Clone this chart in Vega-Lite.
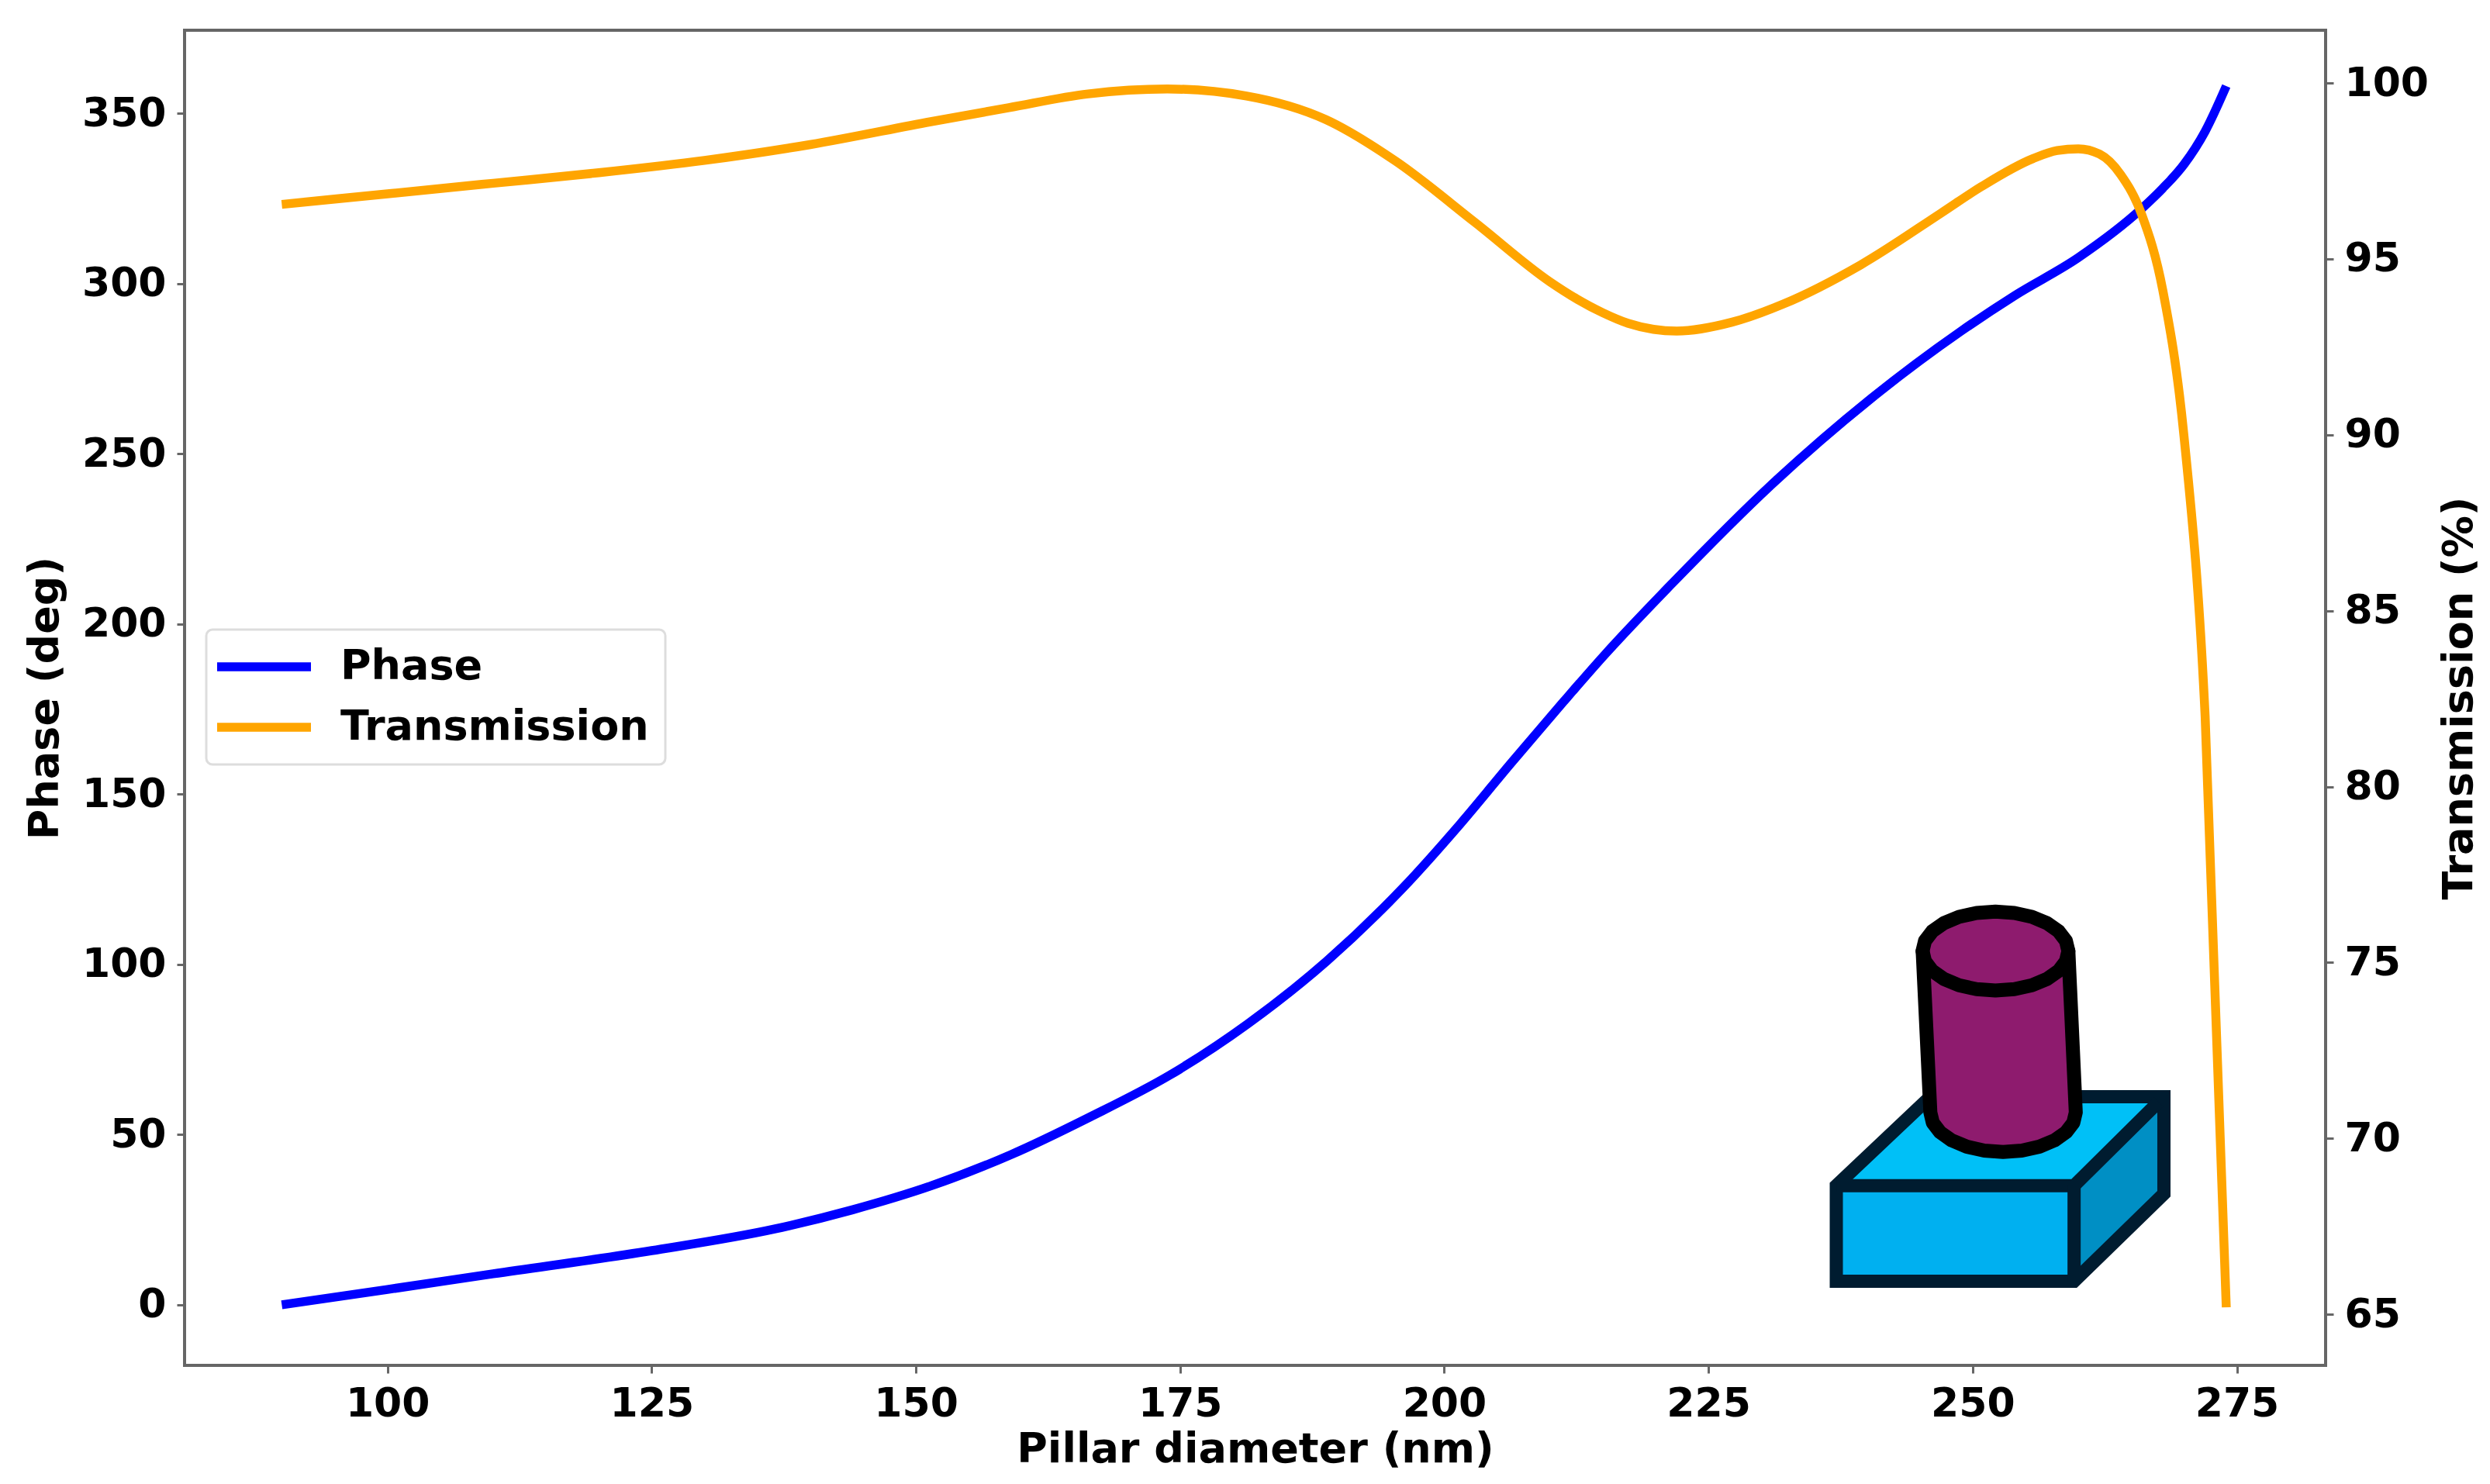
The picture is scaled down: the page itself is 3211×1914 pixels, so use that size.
{
"$schema":"https://vega.github.io/schema/vega-lite/v6.json",
"width":2761,"height":1722,
"autosize":{"type":"none"},
"padding":{"left":238,"top":39,"right":212,"bottom":153},
"background":"white",
"view":{"stroke":"#666666","strokeWidth":4,"fill":"white"},
"config":{
 "axis":{"labelFont":"DejaVu Sans","labelFontWeight":"bold","labelFontSize":52,"labelColor":"#000000","titleFont":"DejaVu Sans","titleFontWeight":"bold","titleFontSize":54,"titleColor":"#000000","tickColor":"#666666","tickWidth":3,"tickSize":10,"labelPadding":14,"domain":false,"grid":false,"labelOverlap":false,"labelBound":false,"labelFlush":false},
 "legend":{"labelFont":"DejaVu Sans","labelFontWeight":"bold","labelFontSize":54,"labelColor":"#000000","strokeWidth":3,"labelLimit":1000}
},
"datasets":{
 "phase":[
  {"d":90,"v":0},{"d":100,"v":4.5},{"d":110,"v":9.1},{"d":125,"v":15.9},{"d":136.7,"v":22.3},{"d":144,"v":27.9},{"d":151.5,"v":35},{"d":159,"v":44.1},{"d":166.5,"v":55.2},{"d":174,"v":67.4},{"d":181.4,"v":82.5},{"d":188.9,"v":101},{"d":196.1,"v":122.5},{"d":201.5,"v":141.2},{"d":206.4,"v":159.4},{"d":211.3,"v":177.2},{"d":215.2,"v":191},{"d":221.6,"v":212},{"d":231,"v":241},{"d":240.3,"v":266},{"d":248.9,"v":286.0},{"d":254,"v":296.5},{"d":260,"v":307.6},{"d":266,"v":322},{"d":268,"v":328},{"d":270,"v":335},{"d":272,"v":344.7},{"d":274,"v":358}
 ],
 "transmission":[
  {"d":90,"v":96.55},{"d":100,"v":96.85},{"d":110,"v":97.15},{"d":120,"v":97.45},{"d":130,"v":97.8},{"d":140,"v":98.25},{"d":151.4,"v":98.9},{"d":158.8,"v":99.3},{"d":166.3,"v":99.69},{"d":173.8,"v":99.83},{"d":181.3,"v":99.63},{"d":188.8,"v":98.96},{"d":195.4,"v":97.78},{"d":202.9,"v":96.04},{"d":210,"v":94.35},{"d":212.5,"v":93.87},{"d":215,"v":93.47},{"d":217.4,"v":93.17},{"d":219.8,"v":93.0},{"d":222,"v":92.95},{"d":227.2,"v":93.2},{"d":232.1,"v":93.72},{"d":239.4,"v":94.83},{"d":247,"v":96.3},{"d":250.8,"v":97.05},{"d":255.7,"v":97.85},{"d":258,"v":98.08},{"d":260,"v":98.13},{"d":262,"v":97.98},{"d":264,"v":97.4},{"d":266,"v":96.26},{"d":268,"v":94.1},{"d":270,"v":89.96},{"d":272,"v":82},{"d":274,"v":65.2}
 ]
},
"resolve":{"scale":{"y":"independent"},"axis":{"y":"independent"}},
"encoding":{"x":{"type":"quantitative","scale":{"domain":[80.8,283.4],"nice":false,"zero":false},"axis":{"title":"Pillar diameter (nm)","values":[100,125,150,175,200,225,250,275],"titlePadding":6}}},
"layer":[
  {"data":{"name":"phase"},
   "mark":{"type":"line","strokeWidth":11.5,"interpolate":"monotone"},
   "encoding":{
    "x":{"field":"d"},
    "y":{"field":"v","type":"quantitative","scale":{"domain":[-17.8,374.4],"nice":false,"zero":false},"axis":{"title":"Phase (deg)","orient":"left","values":[0,50,100,150,200,250,300,350],"titlePadding":20}},
    "color":{"datum":"Phase","type":"nominal","scale":{"domain":["Phase","Transmission"],"range":["#0000ff","#ffa500"]},
     "legend":{"title":null,"orient":"none","legendX":28,"legendY":773,"fillColor":"#ffffff","strokeColor":"#dddddd","cornerRadius":8,"padding":21,"symbolType":"M-1.7,0H4.35","symbolSize":1600,"symbolStrokeWidth":11.5,"labelOffset":98,"rowPadding":24}}
   }},
  {"data":{"name":"transmission"},
   "mark":{"type":"line","strokeWidth":11.5,"interpolate":"monotone"},
   "encoding":{
    "x":{"field":"d"},
    "y":{"field":"v","type":"quantitative","scale":{"domain":[63.55,101.5],"nice":false,"zero":false},"axis":{"title":"Transmission (%)","orient":"right","values":[65,70,75,80,85,90,95,100],"titlePadding":67,"titleAngle":270}},
    "color":{"datum":"Transmission","type":"nominal"}
   }},
  {"data":{"values":[{"x":237.1,"a":35,"b":6.9},{"x":259.6,"a":35,"b":6.9}]},
   "mark":{"type":"area","color":"#00b0f0","opacity":1},
   "encoding":{"x":{"field":"x"},"y":{"field":"a","type":"quantitative","scale":{"domain":[-17.8,374.4],"nice":false,"zero":false},"axis":null},"y2":{"field":"b"}}},
  {"data":{"values":[{"x":237.1,"a":35,"b":35},{"x":246,"a":61.1,"b":35},{"x":259.6,"a":61.1,"b":35},{"x":268.1,"a":61.1,"b":61.1}]},
   "mark":{"type":"area","color":"#00c0f7","opacity":1},
   "encoding":{"x":{"field":"x"},"y":{"field":"a","type":"quantitative","scale":{"domain":[-17.8,374.4],"nice":false,"zero":false},"axis":null},"y2":{"field":"b"}}},
  {"data":{"values":[{"x":259.6,"a":35,"b":6.9},{"x":268.1,"a":61.1,"b":32.6}]},
   "mark":{"type":"area","color":"#008fc4","opacity":1},
   "encoding":{"x":{"field":"x"},"y":{"field":"a","type":"quantitative","scale":{"domain":[-17.8,374.4],"nice":false,"zero":false},"axis":null},"y2":{"field":"b"}}},
  {"data":{"values":[
    {"p":"o","o":0,"x":237.1,"y":6.9},{"p":"o","o":1,"x":237.1,"y":35},{"p":"o","o":2,"x":246,"y":61.1},{"p":"o","o":3,"x":268.1,"y":61.1},{"p":"o","o":4,"x":268.1,"y":32.6},{"p":"o","o":5,"x":259.6,"y":6.9},{"p":"o","o":6,"x":237.1,"y":6.9},{"p":"o","o":7,"x":237.1,"y":35},
    {"p":"e","o":0,"x":237.1,"y":35},{"p":"e","o":1,"x":259.6,"y":35},{"p":"e","o":2,"x":267.6,"y":59.6},
    {"p":"f","o":0,"x":259.6,"y":35},{"p":"f","o":1,"x":259.6,"y":6.9}
   ]},
   "mark":{"type":"line","color":"#001c30","strokeWidth":17,"strokeJoin":"miter","strokeCap":"butt"},
   "encoding":{"x":{"field":"x"},"y":{"field":"y","type":"quantitative","scale":{"domain":[-17.8,374.4],"nice":false,"zero":false},"axis":null},"detail":{"field":"p"},"order":{"field":"o","type":"quantitative"}}},
  {"data":{"values":[
    {"x":245.27,"a":103.9,"b":103.9},{"x":246,"a":103.9,"b":56.5},{"x":246.23,"a":103.9,"b":53.5},{"x":246.92,"a":103.9,"b":50.7},{"x":248.02,"a":103.9,"b":48.3},{"x":249.44,"a":103.9,"b":46.45},{"x":251.1,"a":103.9,"b":45.3},{"x":252.88,"a":103.9,"b":44.9},{"x":254.66,"a":103.9,"b":45.3},{"x":256.32,"a":103.9,"b":46.45},{"x":257.74,"a":103.9,"b":48.3},{"x":258.84,"a":103.9,"b":50.7},{"x":259.06,"a":103.9,"b":51.6},{"x":259.53,"a":72,"b":53.5},{"x":259.76,"a":56.5,"b":56.5}
   ]},
   "mark":{"type":"area","color":"#8e1b6e","opacity":1},
   "encoding":{"x":{"field":"x"},"y":{"field":"a","type":"quantitative","scale":{"domain":[-17.8,374.4],"nice":false,"zero":false},"axis":null},"y2":{"field":"b"}}},
  {"data":{"values":[
    {"x":245.26,"a":103.9,"b":103.9},{"x":245.49,"a":106.9,"b":100.9},{"x":246.18,"a":109.7,"b":98.1},{"x":247.28,"a":112.1,"b":95.7},{"x":248.71,"a":113.95,"b":93.85},{"x":250.37,"a":115.1,"b":92.7},{"x":252.16,"a":115.5,"b":92.3},{"x":253.95,"a":115.1,"b":92.7},{"x":255.61,"a":113.95,"b":93.85},{"x":257.04,"a":112.1,"b":95.7},{"x":258.14,"a":109.7,"b":98.1},{"x":258.83,"a":106.9,"b":100.9},{"x":259.06,"a":103.9,"b":103.9}
   ]},
   "mark":{"type":"area","color":"#8e1b6e","opacity":1},
   "encoding":{"x":{"field":"x"},"y":{"field":"a","type":"quantitative","scale":{"domain":[-17.8,374.4],"nice":false,"zero":false},"axis":null},"y2":{"field":"b"}}},
  {"data":{"values":[
    {"p":"t","o":0,"x":245.26,"y":103.9},{"p":"t","o":1,"x":245.49,"y":106.9},{"p":"t","o":2,"x":246.18,"y":109.7},{"p":"t","o":3,"x":247.28,"y":112.1},{"p":"t","o":4,"x":248.71,"y":113.95},{"p":"t","o":5,"x":250.37,"y":115.1},{"p":"t","o":6,"x":252.16,"y":115.5},{"p":"t","o":7,"x":253.95,"y":115.1},{"p":"t","o":8,"x":255.61,"y":113.95},{"p":"t","o":9,"x":257.04,"y":112.1},{"p":"t","o":10,"x":258.14,"y":109.7},{"p":"t","o":11,"x":258.83,"y":106.9},{"p":"t","o":12,"x":259.06,"y":103.9},{"p":"t","o":13,"x":258.83,"y":100.9},{"p":"t","o":14,"x":258.14,"y":98.1},{"p":"t","o":15,"x":257.04,"y":95.7},{"p":"t","o":16,"x":255.61,"y":93.85},{"p":"t","o":17,"x":253.95,"y":92.7},{"p":"t","o":18,"x":252.16,"y":92.3},{"p":"t","o":19,"x":250.37,"y":92.7},{"p":"t","o":20,"x":248.71,"y":93.85},{"p":"t","o":21,"x":247.28,"y":95.7},{"p":"t","o":22,"x":246.18,"y":98.1},{"p":"t","o":23,"x":245.49,"y":100.9},{"p":"t","o":24,"x":245.26,"y":103.9},
    {"p":"b","o":0,"x":245.27,"y":103.9},{"p":"b","o":1,"x":246,"y":56.5},{"p":"b","o":2,"x":246.23,"y":53.5},{"p":"b","o":3,"x":246.92,"y":50.7},{"p":"b","o":4,"x":248.02,"y":48.3},{"p":"b","o":5,"x":249.44,"y":46.45},{"p":"b","o":6,"x":251.1,"y":45.3},{"p":"b","o":7,"x":252.88,"y":44.9},{"p":"b","o":8,"x":254.66,"y":45.3},{"p":"b","o":9,"x":256.32,"y":46.45},{"p":"b","o":10,"x":257.74,"y":48.3},{"p":"b","o":11,"x":258.84,"y":50.7},{"p":"b","o":12,"x":259.53,"y":53.5},{"p":"b","o":13,"x":259.76,"y":56.5},{"p":"b","o":14,"x":259.06,"y":103.9}
   ]},
   "mark":{"type":"line","color":"#000000","strokeWidth":18,"strokeJoin":"round","strokeCap":"round"},
   "encoding":{"x":{"field":"x"},"y":{"field":"y","type":"quantitative","scale":{"domain":[-17.8,374.4],"nice":false,"zero":false},"axis":null},"detail":{"field":"p"},"order":{"field":"o","type":"quantitative"}}}
]
}
